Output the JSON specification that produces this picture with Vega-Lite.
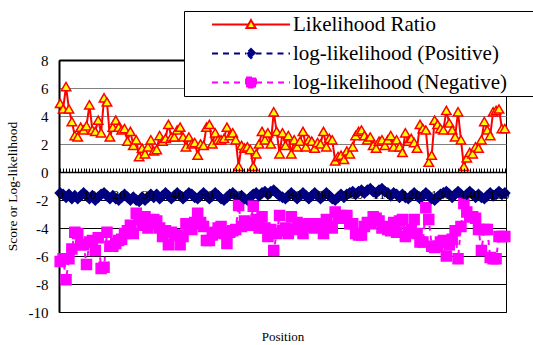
{
"$schema":"https://vega.github.io/schema/vega-lite/v6.json",
"autosize":"none",
"width":447,"height":252,
"padding":{"left":59,"top":60,"right":27,"bottom":33},
"background":"#ffffff",
"config":{"view":{"stroke":"#000000","strokeWidth":1},"font":"Times New Roman, Liberation Serif, DejaVu Serif, serif"},
"data":{"values":[
{"pos":0,"Likelihood Ratio":4.9,"log-likelihood (Positive)":-1.5,"log-likelihood (Negative)":-6.4},
{"pos":1,"Likelihood Ratio":4.5,"log-likelihood (Positive)":-1.6,"log-likelihood (Negative)":-6.2},
{"pos":2,"Likelihood Ratio":6.1,"log-likelihood (Positive)":-1.8,"log-likelihood (Negative)":-7.7},
{"pos":3,"Likelihood Ratio":4.5,"log-likelihood (Positive)":-1.6,"log-likelihood (Negative)":-6.2},
{"pos":4,"Likelihood Ratio":3.6,"log-likelihood (Positive)":-1.9,"log-likelihood (Negative)":-5.5},
{"pos":5,"Likelihood Ratio":2.6,"log-likelihood (Positive)":-1.7,"log-likelihood (Negative)":-4.3},
{"pos":6,"Likelihood Ratio":2.5,"log-likelihood (Positive)":-1.9,"log-likelihood (Negative)":-4.4},
{"pos":7,"Likelihood Ratio":3.2,"log-likelihood (Positive)":-1.7,"log-likelihood (Negative)":-5.2},
{"pos":8,"Likelihood Ratio":3.0,"log-likelihood (Positive)":-1.5,"log-likelihood (Negative)":-5.2},
{"pos":9,"Likelihood Ratio":3.3,"log-likelihood (Positive)":-1.7,"log-likelihood (Negative)":-6.6},
{"pos":10,"Likelihood Ratio":4.8,"log-likelihood (Positive)":-1.9,"log-likelihood (Negative)":-5.0},
{"pos":11,"Likelihood Ratio":3.0,"log-likelihood (Positive)":-1.7,"log-likelihood (Negative)":-4.9},
{"pos":12,"Likelihood Ratio":2.9,"log-likelihood (Positive)":-2.0,"log-likelihood (Negative)":-5.6},
{"pos":13,"Likelihood Ratio":3.7,"log-likelihood (Positive)":-1.8,"log-likelihood (Negative)":-4.7},
{"pos":14,"Likelihood Ratio":2.8,"log-likelihood (Positive)":-1.6,"log-likelihood (Negative)":-6.9},
{"pos":15,"Likelihood Ratio":5.3,"log-likelihood (Positive)":-1.5,"log-likelihood (Negative)":-6.8},
{"pos":16,"Likelihood Ratio":5.0,"log-likelihood (Positive)":-1.7,"log-likelihood (Negative)":-4.3},
{"pos":17,"Likelihood Ratio":2.5,"log-likelihood (Positive)":-1.9,"log-likelihood (Negative)":-5.3},
{"pos":18,"Likelihood Ratio":3.2,"log-likelihood (Positive)":-1.7,"log-likelihood (Negative)":-5.3},
{"pos":19,"Likelihood Ratio":3.7,"log-likelihood (Positive)":-1.9,"log-likelihood (Negative)":-5.1},
{"pos":20,"Likelihood Ratio":3.2,"log-likelihood (Positive)":-2.0,"log-likelihood (Negative)":-4.9},
{"pos":21,"Likelihood Ratio":3.0,"log-likelihood (Positive)":-1.8,"log-likelihood (Negative)":-4.8},
{"pos":22,"Likelihood Ratio":3.1,"log-likelihood (Positive)":-1.6,"log-likelihood (Negative)":-4.4},
{"pos":23,"Likelihood Ratio":2.2,"log-likelihood (Positive)":-1.8,"log-likelihood (Negative)":-4.2},
{"pos":24,"Likelihood Ratio":2.9,"log-likelihood (Positive)":-2.0,"log-likelihood (Negative)":-3.8},
{"pos":25,"Likelihood Ratio":1.9,"log-likelihood (Positive)":-1.8,"log-likelihood (Negative)":-4.4},
{"pos":26,"Likelihood Ratio":2.3,"log-likelihood (Positive)":-2.0,"log-likelihood (Negative)":-2.95},
{"pos":27,"Likelihood Ratio":1.1,"log-likelihood (Positive)":-2.1,"log-likelihood (Negative)":-3.4},
{"pos":28,"Likelihood Ratio":1.7,"log-likelihood (Positive)":-1.8,"log-likelihood (Negative)":-3.8},
{"pos":29,"Likelihood Ratio":1.3,"log-likelihood (Positive)":-2.0,"log-likelihood (Negative)":-3.2},
{"pos":30,"Likelihood Ratio":1.8,"log-likelihood (Positive)":-1.8,"log-likelihood (Negative)":-4.0},
{"pos":31,"Likelihood Ratio":2.3,"log-likelihood (Positive)":-1.6,"log-likelihood (Negative)":-3.7},
{"pos":32,"Likelihood Ratio":1.5,"log-likelihood (Positive)":-1.8,"log-likelihood (Negative)":-3.4},
{"pos":33,"Likelihood Ratio":1.6,"log-likelihood (Positive)":-1.6,"log-likelihood (Negative)":-3.5},
{"pos":34,"Likelihood Ratio":2.6,"log-likelihood (Positive)":-1.9,"log-likelihood (Negative)":-4.0},
{"pos":35,"Likelihood Ratio":2.2,"log-likelihood (Positive)":-1.7,"log-likelihood (Negative)":-4.6},
{"pos":36,"Likelihood Ratio":2.4,"log-likelihood (Positive)":-1.5,"log-likelihood (Negative)":-4.2},
{"pos":37,"Likelihood Ratio":3.4,"log-likelihood (Positive)":-1.7,"log-likelihood (Negative)":-5.2},
{"pos":38,"Likelihood Ratio":2.5,"log-likelihood (Positive)":-1.9,"log-likelihood (Negative)":-4.3},
{"pos":39,"Likelihood Ratio":2.5,"log-likelihood (Positive)":-1.7,"log-likelihood (Negative)":-4.5},
{"pos":40,"Likelihood Ratio":3.0,"log-likelihood (Positive)":-1.5,"log-likelihood (Negative)":-4.5},
{"pos":41,"Likelihood Ratio":3.2,"log-likelihood (Positive)":-1.7,"log-likelihood (Negative)":-5.2},
{"pos":42,"Likelihood Ratio":2.5,"log-likelihood (Positive)":-1.9,"log-likelihood (Negative)":-4.6},
{"pos":43,"Likelihood Ratio":1.8,"log-likelihood (Positive)":-1.7,"log-likelihood (Negative)":-3.7},
{"pos":44,"Likelihood Ratio":2.5,"log-likelihood (Positive)":-1.5,"log-likelihood (Negative)":-3.8},
{"pos":45,"Likelihood Ratio":2.0,"log-likelihood (Positive)":-1.6,"log-likelihood (Negative)":-4.1},
{"pos":46,"Likelihood Ratio":2.1,"log-likelihood (Positive)":-1.8,"log-likelihood (Negative)":-3.6},
{"pos":47,"Likelihood Ratio":1.2,"log-likelihood (Positive)":-1.9,"log-likelihood (Negative)":-2.95},
{"pos":48,"Likelihood Ratio":2.0,"log-likelihood (Positive)":-1.7,"log-likelihood (Negative)":-3.6},
{"pos":49,"Likelihood Ratio":1.9,"log-likelihood (Positive)":-1.5,"log-likelihood (Negative)":-3.9},
{"pos":50,"Likelihood Ratio":3.2,"log-likelihood (Positive)":-1.7,"log-likelihood (Negative)":-4.9},
{"pos":51,"Likelihood Ratio":3.4,"log-likelihood (Positive)":-1.9,"log-likelihood (Negative)":-4.9},
{"pos":52,"Likelihood Ratio":2.0,"log-likelihood (Positive)":-1.7,"log-likelihood (Negative)":-4.5},
{"pos":53,"Likelihood Ratio":2.8,"log-likelihood (Positive)":-1.5,"log-likelihood (Negative)":-4.3},
{"pos":54,"Likelihood Ratio":2.3,"log-likelihood (Positive)":-1.7,"log-likelihood (Negative)":-4.0},
{"pos":55,"Likelihood Ratio":2.3,"log-likelihood (Positive)":-1.9,"log-likelihood (Negative)":-3.9},
{"pos":56,"Likelihood Ratio":2.4,"log-likelihood (Positive)":-2.0,"log-likelihood (Negative)":-4.4},
{"pos":57,"Likelihood Ratio":3.2,"log-likelihood (Positive)":-1.8,"log-likelihood (Negative)":-5.1},
{"pos":58,"Likelihood Ratio":2.6,"log-likelihood (Positive)":-1.6,"log-likelihood (Negative)":-4.3},
{"pos":59,"Likelihood Ratio":2.8,"log-likelihood (Positive)":-1.5,"log-likelihood (Negative)":-4.2},
{"pos":60,"Likelihood Ratio":2.3,"log-likelihood (Positive)":-1.7,"log-likelihood (Negative)":-4.1},
{"pos":61,"Likelihood Ratio":0.4,"log-likelihood (Positive)":-1.9,"log-likelihood (Negative)":-2.4},
{"pos":62,"Likelihood Ratio":1.9,"log-likelihood (Positive)":-1.7,"log-likelihood (Negative)":-3.9},
{"pos":63,"Likelihood Ratio":1.7,"log-likelihood (Positive)":-1.9,"log-likelihood (Negative)":-3.5},
{"pos":64,"Likelihood Ratio":1.8,"log-likelihood (Positive)":-2.0,"log-likelihood (Negative)":-3.6},
{"pos":65,"Likelihood Ratio":1.6,"log-likelihood (Positive)":-1.8,"log-likelihood (Negative)":-3.8},
{"pos":66,"Likelihood Ratio":0.4,"log-likelihood (Positive)":-1.6,"log-likelihood (Negative)":-2.45},
{"pos":67,"Likelihood Ratio":1.3,"log-likelihood (Positive)":-1.5,"log-likelihood (Negative)":-3.4},
{"pos":68,"Likelihood Ratio":2.0,"log-likelihood (Positive)":-1.7,"log-likelihood (Negative)":-4.0},
{"pos":69,"Likelihood Ratio":2.9,"log-likelihood (Positive)":-1.5,"log-likelihood (Negative)":-3.2},
{"pos":70,"Likelihood Ratio":2.3,"log-likelihood (Positive)":-1.4,"log-likelihood (Negative)":-4.0},
{"pos":71,"Likelihood Ratio":2.8,"log-likelihood (Positive)":-1.6,"log-likelihood (Negative)":-4.6},
{"pos":72,"Likelihood Ratio":2.0,"log-likelihood (Positive)":-1.4,"log-likelihood (Negative)":-4.1},
{"pos":73,"Likelihood Ratio":4.3,"log-likelihood (Positive)":-1.3,"log-likelihood (Negative)":-5.6},
{"pos":74,"Likelihood Ratio":2.9,"log-likelihood (Positive)":-1.5,"log-likelihood (Negative)":-4.4},
{"pos":75,"Likelihood Ratio":1.3,"log-likelihood (Positive)":-1.7,"log-likelihood (Negative)":-3.1},
{"pos":76,"Likelihood Ratio":2.8,"log-likelihood (Positive)":-1.8,"log-likelihood (Negative)":-4.2},
{"pos":77,"Likelihood Ratio":1.9,"log-likelihood (Positive)":-1.9,"log-likelihood (Negative)":-4.0},
{"pos":78,"Likelihood Ratio":2.6,"log-likelihood (Positive)":-1.7,"log-likelihood (Negative)":-4.4},
{"pos":79,"Likelihood Ratio":1.3,"log-likelihood (Positive)":-1.5,"log-likelihood (Negative)":-3.2},
{"pos":80,"Likelihood Ratio":2.3,"log-likelihood (Positive)":-1.7,"log-likelihood (Negative)":-4.1},
{"pos":81,"Likelihood Ratio":1.8,"log-likelihood (Positive)":-1.9,"log-likelihood (Negative)":-3.6},
{"pos":82,"Likelihood Ratio":2.2,"log-likelihood (Positive)":-1.7,"log-likelihood (Negative)":-3.8},
{"pos":83,"Likelihood Ratio":2.9,"log-likelihood (Positive)":-1.5,"log-likelihood (Negative)":-4.4},
{"pos":84,"Likelihood Ratio":1.8,"log-likelihood (Positive)":-1.7,"log-likelihood (Negative)":-3.9},
{"pos":85,"Likelihood Ratio":2.3,"log-likelihood (Positive)":-1.9,"log-likelihood (Negative)":-3.7},
{"pos":86,"Likelihood Ratio":2.2,"log-likelihood (Positive)":-1.7,"log-likelihood (Negative)":-3.8},
{"pos":87,"Likelihood Ratio":1.7,"log-likelihood (Positive)":-1.5,"log-likelihood (Negative)":-4.0},
{"pos":88,"Likelihood Ratio":2.1,"log-likelihood (Positive)":-1.7,"log-likelihood (Negative)":-3.7},
{"pos":89,"Likelihood Ratio":2.0,"log-likelihood (Positive)":-1.9,"log-likelihood (Negative)":-3.9},
{"pos":90,"Likelihood Ratio":2.9,"log-likelihood (Positive)":-1.7,"log-likelihood (Negative)":-4.4},
{"pos":91,"Likelihood Ratio":1.8,"log-likelihood (Positive)":-1.5,"log-likelihood (Negative)":-3.4},
{"pos":92,"Likelihood Ratio":2.4,"log-likelihood (Positive)":-1.7,"log-likelihood (Negative)":-3.9},
{"pos":93,"Likelihood Ratio":2.3,"log-likelihood (Positive)":-1.9,"log-likelihood (Negative)":-4.0},
{"pos":94,"Likelihood Ratio":0.8,"log-likelihood (Positive)":-2.0,"log-likelihood (Negative)":-2.85},
{"pos":95,"Likelihood Ratio":1.1,"log-likelihood (Positive)":-1.8,"log-likelihood (Negative)":-3.3},
{"pos":96,"Likelihood Ratio":1.2,"log-likelihood (Positive)":-1.6,"log-likelihood (Negative)":-3.1},
{"pos":97,"Likelihood Ratio":0.9,"log-likelihood (Positive)":-1.8,"log-likelihood (Negative)":-3.3},
{"pos":98,"Likelihood Ratio":1.5,"log-likelihood (Positive)":-1.6,"log-likelihood (Negative)":-3.1},
{"pos":99,"Likelihood Ratio":1.3,"log-likelihood (Positive)":-1.5,"log-likelihood (Negative)":-3.7},
{"pos":100,"Likelihood Ratio":1.8,"log-likelihood (Positive)":-1.4,"log-likelihood (Negative)":-3.7},
{"pos":101,"Likelihood Ratio":2.6,"log-likelihood (Positive)":-1.6,"log-likelihood (Negative)":-4.4},
{"pos":102,"Likelihood Ratio":2.9,"log-likelihood (Positive)":-1.4,"log-likelihood (Negative)":-4.5},
{"pos":103,"Likelihood Ratio":3.0,"log-likelihood (Positive)":-1.3,"log-likelihood (Negative)":-4.5},
{"pos":104,"Likelihood Ratio":2.6,"log-likelihood (Positive)":-1.5,"log-likelihood (Negative)":-3.9},
{"pos":105,"Likelihood Ratio":2.3,"log-likelihood (Positive)":-1.3,"log-likelihood (Negative)":-3.6},
{"pos":106,"Likelihood Ratio":2.5,"log-likelihood (Positive)":-1.2,"log-likelihood (Negative)":-3.7},
{"pos":107,"Likelihood Ratio":1.9,"log-likelihood (Positive)":-1.4,"log-likelihood (Negative)":-3.2},
{"pos":108,"Likelihood Ratio":1.7,"log-likelihood (Positive)":-1.5,"log-likelihood (Negative)":-3.3},
{"pos":109,"Likelihood Ratio":2.2,"log-likelihood (Positive)":-1.3,"log-likelihood (Negative)":-3.5},
{"pos":110,"Likelihood Ratio":2.3,"log-likelihood (Positive)":-1.2,"log-likelihood (Negative)":-4.0},
{"pos":111,"Likelihood Ratio":1.9,"log-likelihood (Positive)":-1.4,"log-likelihood (Negative)":-3.9},
{"pos":112,"Likelihood Ratio":2.3,"log-likelihood (Positive)":-1.5,"log-likelihood (Negative)":-4.1},
{"pos":113,"Likelihood Ratio":2.6,"log-likelihood (Positive)":-1.7,"log-likelihood (Negative)":-4.2},
{"pos":114,"Likelihood Ratio":1.8,"log-likelihood (Positive)":-1.5,"log-likelihood (Negative)":-3.6},
{"pos":115,"Likelihood Ratio":2.3,"log-likelihood (Positive)":-1.6,"log-likelihood (Negative)":-4.3},
{"pos":116,"Likelihood Ratio":1.8,"log-likelihood (Positive)":-1.8,"log-likelihood (Negative)":-3.5},
{"pos":117,"Likelihood Ratio":1.4,"log-likelihood (Positive)":-1.6,"log-likelihood (Negative)":-3.4},
{"pos":118,"Likelihood Ratio":2.8,"log-likelihood (Positive)":-1.8,"log-likelihood (Negative)":-4.6},
{"pos":119,"Likelihood Ratio":2.2,"log-likelihood (Positive)":-1.9,"log-likelihood (Negative)":-4.3},
{"pos":120,"Likelihood Ratio":2.4,"log-likelihood (Positive)":-1.7,"log-likelihood (Negative)":-4.1},
{"pos":121,"Likelihood Ratio":2.1,"log-likelihood (Positive)":-1.5,"log-likelihood (Negative)":-3.4},
{"pos":122,"Likelihood Ratio":1.7,"log-likelihood (Positive)":-1.7,"log-likelihood (Negative)":-4.4},
{"pos":123,"Likelihood Ratio":3.4,"log-likelihood (Positive)":-1.9,"log-likelihood (Negative)":-5.0},
{"pos":124,"Likelihood Ratio":3.1,"log-likelihood (Positive)":-1.7,"log-likelihood (Negative)":-5.0},
{"pos":125,"Likelihood Ratio":3.0,"log-likelihood (Positive)":-1.5,"log-likelihood (Negative)":-2.55},
{"pos":126,"Likelihood Ratio":0.7,"log-likelihood (Positive)":-1.7,"log-likelihood (Negative)":-3.4},
{"pos":127,"Likelihood Ratio":1.2,"log-likelihood (Positive)":-1.9,"log-likelihood (Negative)":-5.3},
{"pos":128,"Likelihood Ratio":3.7,"log-likelihood (Positive)":-2.0,"log-likelihood (Negative)":-5.4},
{"pos":129,"Likelihood Ratio":3.4,"log-likelihood (Positive)":-1.8,"log-likelihood (Negative)":-5.3},
{"pos":130,"Likelihood Ratio":3.1,"log-likelihood (Positive)":-1.6,"log-likelihood (Negative)":-5.0},
{"pos":131,"Likelihood Ratio":3.0,"log-likelihood (Positive)":-1.5,"log-likelihood (Negative)":-4.9},
{"pos":132,"Likelihood Ratio":4.4,"log-likelihood (Positive)":-1.4,"log-likelihood (Negative)":-6.0},
{"pos":133,"Likelihood Ratio":3.5,"log-likelihood (Positive)":-1.6,"log-likelihood (Negative)":-5.2},
{"pos":134,"Likelihood Ratio":3.0,"log-likelihood (Positive)":-1.8,"log-likelihood (Negative)":-4.8},
{"pos":135,"Likelihood Ratio":2.5,"log-likelihood (Positive)":-1.6,"log-likelihood (Negative)":-4.2},
{"pos":136,"Likelihood Ratio":4.3,"log-likelihood (Positive)":-1.4,"log-likelihood (Negative)":-6.2},
{"pos":137,"Likelihood Ratio":2.3,"log-likelihood (Positive)":-1.6,"log-likelihood (Negative)":-3.9},
{"pos":138,"Likelihood Ratio":0.4,"log-likelihood (Positive)":-1.8,"log-likelihood (Negative)":-2.25},
{"pos":139,"Likelihood Ratio":1.0,"log-likelihood (Positive)":-1.6,"log-likelihood (Negative)":-2.85},
{"pos":140,"Likelihood Ratio":1.4,"log-likelihood (Positive)":-1.4,"log-likelihood (Negative)":-3.2},
{"pos":141,"Likelihood Ratio":1.3,"log-likelihood (Positive)":-1.6,"log-likelihood (Negative)":-3.2},
{"pos":142,"Likelihood Ratio":1.8,"log-likelihood (Positive)":-1.8,"log-likelihood (Negative)":-3.3},
{"pos":143,"Likelihood Ratio":1.7,"log-likelihood (Positive)":-1.6,"log-likelihood (Negative)":-4.1},
{"pos":144,"Likelihood Ratio":2.3,"log-likelihood (Positive)":-1.8,"log-likelihood (Negative)":-5.6},
{"pos":145,"Likelihood Ratio":3.6,"log-likelihood (Positive)":-1.9,"log-likelihood (Negative)":-4.1},
{"pos":146,"Likelihood Ratio":3.0,"log-likelihood (Positive)":-1.7,"log-likelihood (Negative)":-4.1},
{"pos":147,"Likelihood Ratio":2.6,"log-likelihood (Positive)":-1.5,"log-likelihood (Negative)":-6.1},
{"pos":148,"Likelihood Ratio":4.3,"log-likelihood (Positive)":-1.7,"log-likelihood (Negative)":-6.2},
{"pos":149,"Likelihood Ratio":4.4,"log-likelihood (Positive)":-1.6,"log-likelihood (Negative)":-6.2},
{"pos":150,"Likelihood Ratio":4.5,"log-likelihood (Positive)":-1.4,"log-likelihood (Negative)":-4.6},
{"pos":151,"Likelihood Ratio":3.1,"log-likelihood (Positive)":-1.6,"log-likelihood (Negative)":-4.6},
{"pos":152,"Likelihood Ratio":3.1,"log-likelihood (Positive)":-1.5,"log-likelihood (Negative)":-4.6}
]},
"transform":[{"fold":["Likelihood Ratio","log-likelihood (Positive)","log-likelihood (Negative)"],"as":["series","value"]}],
"encoding":{
"x":{"field":"pos","type":"quantitative","scale":{"domain":[-0.4,152.4],"nice":false,"zero":false},
"axis":{"orient":"bottom","offset":-140,"zindex":1,"values":[0,1,2,3,4,5,6,7,8,9,10,11,12,13,14,15,16,17,18,19,20,21,22,23,24,25,26,27,28,29,30,31,32,33,34,35,36,37,38,39,40,41,42,43,44,45,46,47,48,49,50,51,52,53,54,55,56,57,58,59,60,61,62,63,64,65,66,67,68,69,70,71,72,73,74,75,76,77,78,79,80,81,82,83,84,85,86,87,88,89,90,91,92,93,94,95,96,97,98,99,100,101,102,103,104,105,106,107,108,109,110,111,112,113,114,115,116,117,118,119,120,121,122,123,124,125,126,127,128,129,130,131,132,133,134,135,136,137,138,139,140,141,142,143,144,145,146,147,148,149,150,151,152],
"labelExpr":"datum.value % 10 === 0 ? toString(datum.value) : ''","labelOverlap":false,"labelBound":false,"labelFlush":false,
"tickSize":-4,"tickColor":"#000000","tickWidth":1,"domainColor":"#000000","domainWidth":1.5,"labelPadding":19,
"labelFont":"Times New Roman, Liberation Serif, DejaVu Serif, serif","labelFontSize":13.5,"labelColor":"#000000","grid":false,
"title":"Position","titleFont":"Times New Roman, Liberation Serif, DejaVu Serif, serif","titleFontSize":13,"titleFontWeight":"normal","titleColor":"#000000","titlePadding":130}},
"y":{"field":"value","type":"quantitative","scale":{"domain":[-10,8],"nice":false,"zero":false},
"axis":{"values":[-10,-8,-6,-4,-2,0,2,4,6,8],"labelExpr":"toString(datum.value)","grid":true,
"gridColor":{"condition":{"test":"datum.value > 0 && datum.value < 8","value":"#808080"},"value":"#000000"},
"gridWidth":{"condition":{"test":"datum.value >= 8","value":2},"value":1},
"ticks":false,"domainColor":"#000000","domainWidth":2,"labelPadding":11,
"labelFont":"Times New Roman, Liberation Serif, DejaVu Serif, serif","labelFontSize":15,"labelColor":"#000000",
"title":"Score or Log-likelihood","titleFont":"Times New Roman, Liberation Serif, DejaVu Serif, serif","titleFontSize":13.5,"titleFontWeight":"normal","titleColor":"#000000","titlePadding":9}}
},
"layer":[
{"mark":{"type":"line","strokeWidth":2},
"encoding":{
"stroke":{"field":"series","type":"nominal","scale":{"domain":["Likelihood Ratio","log-likelihood (Positive)","log-likelihood (Negative)"],"range":["#FF0000","#000080","#FF00FF"]},
"legend":{"orient":"none","legendX":125,"legendY":-49,"title":null,"padding":3,"fillColor":"#ffffff","strokeColor":"#000000",
"labelFont":"Times New Roman, Liberation Serif, DejaVu Serif, serif","labelFontSize":21,"labelColor":"#000000","labelLimit":400,"rowPadding":7,"symbolSize":100,"symbolOffset":53.5,"labelOffset":31.5,
"encode":{"symbols":{"update":{
"shape":{"signal":"datum.value === 'Likelihood Ratio' ? 'M-7.8,0L-0.5,0M0.5,0L7.8,0M0,-0.9L0.9,0.7L-0.9,0.7ZM55.4,0L55.4,0' : datum.value === 'log-likelihood (Positive)' ? 'M-7.8,0L-0.9,0M0.9,0L7.8,0M0,-0.9L0.9,0L0,0.9L-0.9,0Z' : 'M-7.8,0L-1,0M1,0L7.8,0M-1,-1L1,-1L1,1L-1,1Z'"},
"fill":{"signal":"datum.value === 'Likelihood Ratio' ? '#FFFF00' : datum.value === 'log-likelihood (Positive)' ? '#000080' : '#FF00FF'"},
"stroke":{"signal":"datum.value === 'Likelihood Ratio' ? '#FF0000' : datum.value === 'log-likelihood (Positive)' ? '#000080' : '#FF00FF'"},
"strokeDash":{"signal":"datum.value === 'Likelihood Ratio' ? [1,0] : [6,5]"},
"strokeWidth":{"value":2},"opacity":{"value":1},"fillOpacity":{"value":1}}}}}},
"strokeDash":{"field":"series","type":"nominal","scale":{"domain":["Likelihood Ratio","log-likelihood (Positive)","log-likelihood (Negative)"],"range":[[1,0],[5,5],[5,5]]},"legend":null}
}},
{"mark":{"type":"point","filled":true,"opacity":1,"strokeWidth":1.5},
"encoding":{
"shape":{"field":"series","type":"nominal","scale":{"domain":["Likelihood Ratio","log-likelihood (Positive)","log-likelihood (Negative)"],"range":["triangle-up","diamond","square"]},"legend":null},
"fill":{"field":"series","type":"nominal","scale":{"domain":["Likelihood Ratio","log-likelihood (Positive)","log-likelihood (Negative)"],"range":["#FFFF00","#000080","#FF00FF"]},"legend":null},
"stroke":{"field":"series","type":"nominal","scale":{"domain":["Likelihood Ratio","log-likelihood (Positive)","log-likelihood (Negative)"],"range":["#FF0000","#000080","#FF00FF"]},"legend":null},
"size":{"field":"series","type":"nominal","scale":{"domain":["Likelihood Ratio","log-likelihood (Positive)","log-likelihood (Negative)"],"range":[90,100,75]},"legend":null}
}}
],
"resolve":{"scale":{"stroke":"independent"},"legend":{"stroke":"independent"}}
}
